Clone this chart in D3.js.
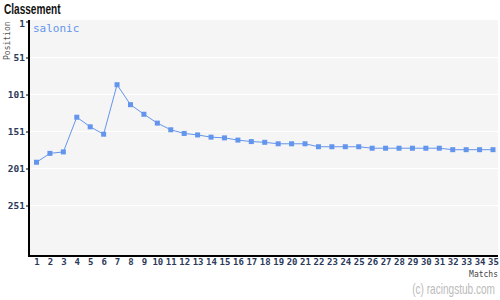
<!DOCTYPE html>
<html><head><meta charset="utf-8">
<script src="https://cdn.jsdelivr.net/npm/d3@7"></script>
<style>body{margin:0;background:#fff}svg{display:block}</style>
</head><body>
<svg id="c" width="500" height="300"></svg>
<script>
const matches = d3.range(1, 36);
const positions = [193,181,179,132,145,155,88,115,128,140,149,154,156,159,160,163,165,166,168,168,168,172,172,172,172,174,174,174,174,174,174,176,176,176,176];
const yTicks = [1, 51, 101, 151, 201, 251];
const seriesName = "salonic";

const svg = d3.select("#c");
const L = 30, R = 498, T = 20, B = 256;
const x = d3.scalePoint().domain(matches).range([36.5, 493]);
const y = d3.scaleLinear().domain([1, 320]).range([T + 0.5, B]);

svg.append("defs").append("clipPath").attr("id", "yclip")
  .append("rect").attr("x", 0).attr("y", 18).attr("width", 40).attr("height", 250);

svg.append("rect").attr("x", L).attr("y", T).attr("width", R - L).attr("height", B - T).attr("fill", "#f5f5f5");

// gridlines
svg.append("g").selectAll("line").data(yTicks.slice(1)).join("line")
  .attr("x1", L).attr("x2", R)
  .attr("y1", d => Math.round(y(d)) + 0.5).attr("y2", d => Math.round(y(d)) + 0.5)
  .attr("stroke", "#fff").attr("stroke-width", 1);

// y axis
const ya = svg.append("g").attr("clip-path", "url(#yclip)").append("g").attr("transform", `translate(${L - 1},0)`)
  .call(d3.axisLeft(y).tickValues(yTicks).tickSize(3).tickPadding(1).tickFormat(d3.format("d")));
ya.select(".domain").remove();
ya.selectAll("line").attr("stroke", "#000").attr("transform", (d) => `translate(0,${Math.round(y(d)) + 0.5 - y(d)})`);
ya.selectAll("text").attr("font-family", "DejaVu Sans Mono").attr("font-size", 9.5).attr("font-weight", "bold").attr("fill", "#2b3a5c")
  .attr("transform", (d, i) => `translate(0,${Math.round(y(d)) + 0.5 - y(d) + (i === 0 ? 2 : 0)})`);

// x axis
const xa = svg.append("g").attr("transform", `translate(0,${B})`)
  .call(d3.axisBottom(x).tickSize(0).tickPadding(3));
xa.select(".domain").remove();
xa.selectAll("text").attr("font-family", "DejaVu Sans Mono").attr("font-size", 9).attr("font-weight", "bold").attr("fill", "#2b3a5c");

// axis lines
svg.append("line").attr("x1", L - 1).attr("x2", L - 1).attr("y1", T).attr("y2", B + 1).attr("stroke", "#000").attr("stroke-width", 2);
svg.append("line").attr("x1", L - 2).attr("x2", R).attr("y1", B).attr("y2", B).attr("stroke", "#000").attr("stroke-width", 2);

// line
const line = d3.line().x((d, i) => x(matches[i])).y(d => y(d));
svg.append("path").datum(positions).attr("d", line).attr("fill", "none").attr("stroke", "#6495ED").attr("stroke-width", 1);
svg.append("g").selectAll("rect").data(positions).join("rect")
  .attr("x", (d, i) => x(matches[i]) - 2.5).attr("y", d => y(d) - 2.5)
  .attr("width", 5).attr("height", 5).attr("fill", "#6495ED");

// texts
svg.append("text").attr("transform", "translate(4,14) scale(0.72,1)").text("Classement")
  .attr("font-family", "Liberation Sans").attr("font-weight", "bold").attr("font-size", 14).attr("fill", "#111");
svg.append("text").attr("transform", "translate(10,60) rotate(-90)").text("Position")
  .attr("font-family", "DejaVu Sans Mono").attr("font-size", 8).attr("fill", "#555");
svg.append("text").attr("x", 33).attr("y", 32).text(seriesName)
  .attr("font-family", "DejaVu Sans Mono").attr("font-size", 11).attr("fill", "#6495ED");
svg.append("text").attr("x", 498).attr("y", 277).attr("text-anchor", "end").text("Matchs")
  .attr("font-family", "DejaVu Sans Mono").attr("font-size", 8).attr("fill", "#444");
svg.append("text").attr("transform", "translate(495,294) scale(0.72,1)").attr("text-anchor", "end").text("(c) racingstub.com")
  .attr("font-family", "Liberation Sans").attr("font-size", 14).attr("fill", "#bbb");
</script>
</body></html>
